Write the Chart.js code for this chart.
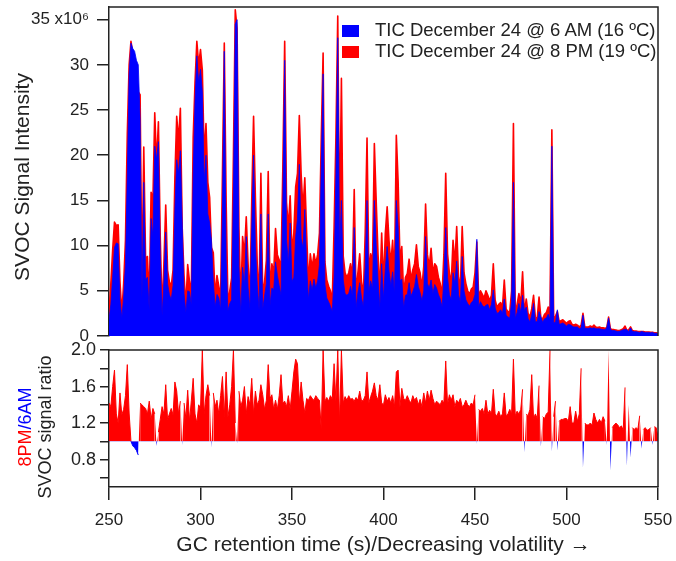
<!DOCTYPE html>
<html>
<head>
<meta charset="utf-8">
<script src="https://cdn.jsdelivr.net/npm/chart.js@4.4.1/dist/chart.umd.min.js"></script>
<style>
  html, body { margin: 0; padding: 0; background: #fff; }
  #wrap { position: relative; width: 676px; height: 561px; overflow: hidden; }
  #tic { position: absolute; left: 0; top: 0; }
  #ratio { position: absolute; left: 0; top: 338px; }
  #legend { position: absolute; left: 342px; top: 19px; font: 18.5px "Liberation Sans", Arial, sans-serif; color: #222; }
  #legend .row { height: 21px; line-height: 21px; white-space: nowrap; }
  #legend .swatch { display: inline-block; width: 17px; height: 12px; margin-right: 16px; vertical-align: -1px; }
</style>
</head>
<body>
<div id="wrap">
  <canvas id="tic" width="676" height="348"></canvas>
  <canvas id="ratio" width="676" height="223"></canvas>
  <div id="legend"></div>
</div>
<script>
// retention time grid, 1 s steps from 250 to 550 s
const retentionTime = Array.from({ length: 301 }, (_, i) => 250 + i);

// TIC, 6 AM sample (x10^6)
const amSignal = [
  1.8, 3.5, 6.5, 9.8, 10.3, 10.2, 4.0, 2.0, 4.3, 8.0,        // 250
  18.0, 29.0, 32.4, 31.8, 31.5, 30.5, 30.0, 24.0, 4.0, 17.0, // 260
  6.2, 6.5, 2.8, 13.0, 11.0, 21.0, 19.5, 21.5, 9.0, 2.2,     // 270
  6.0, 11.5, 5.8, 4.6, 4.0, 5.6, 14.0, 19.5, 18.0, 20.5,     // 280
  12.5, 4.7, 2.6, 5.0, 4.9, 3.4, 18.0, 26.0, 31.0, 28.0,     // 290
  29.5, 27.0, 17.0, 20.0, 13.5, 12.5, 10.5, 6.0, 3.2, 4.6,   // 300
  4.2, 2.9, 14.0, 31.5, 8.5, 2.8, 3.6, 4.0, 16.0, 34.5,      // 310
  35.0, 7.7, 2.5, 7.6, 5.6, 11.0, 5.4, 3.0, 12.0, 20.0,      // 320
  9.9, 5.7, 2.9, 13.5, 3.0, 4.4, 5.8, 13.5, 3.4, 5.3,        // 330
  5.1, 8.2, 6.7, 5.6, 4.5, 15.0, 30.5, 10.7, 8.0, 12.5,      // 340
  6.0, 6.5, 11.0, 13.0, 19.0, 10.8, 9.7, 14.0, 7.8, 4.0,     // 350
  6.1, 5.1, 6.3, 5.3, 6.1, 7.9, 19.0, 29.0, 5.7, 4.2,        // 360
  3.8, 3.3, 2.7, 6.5, 18.0, 33.0, 9.5, 15.0, 6.2, 4.7,       // 370
  4.5, 4.7, 5.5, 4.4, 12.0, 3.1, 4.8, 5.9, 4.2, 3.2,         // 380
  7.6, 15.0, 4.9, 6.1, 5.2, 15.0, 10.0, 6.3, 3.1, 8.0,       // 390
  4.1, 7.5, 9.9, 7.2, 5.6, 7.1, 4.7, 15.0, 12.0, 6.1,        // 400
  6.3, 3.1, 4.5, 4.6, 5.9, 4.4, 4.9, 5.5, 6.8, 5.5,          // 410
  4.8, 3.9, 5.0, 11.0, 5.8, 5.3, 6.2, 4.7, 5.7, 5.3,         // 420
  4.6, 4.1, 3.2, 6.3, 12.0, 6.5, 4.6, 4.0, 7.0, 5.8,         // 430
  8.3, 4.6, 3.7, 8.8, 5.0, 4.0, 3.6, 3.3, 3.7, 3.9,          // 440
  4.6, 10.7, 3.2, 3.8, 3.4, 3.2, 3.4, 3.5, 2.9, 3.5,         // 450
  5.1, 3.1, 2.5, 2.6, 2.9, 2.5, 4.1, 2.3, 2.1, 2.0,          // 460
  3.8, 17.0, 1.95, 2.6, 3.6, 2.6, 4.5, 2.8, 3.2, 1.95,       // 470
  1.55, 2.3, 3.6, 1.55, 1.6, 2.7, 2.1, 1.5, 1.9, 2.0,        // 480
  2.4, 1.8, 21.0, 1.5, 1.5, 2.9, 1.3, 1.35, 1.45, 1.3,       // 490
  1.1, 1.3, 1.25, 1.1, 1.0, 1.0, 1.0, 0.8, 0.9, 2.3,         // 500
  0.85, 0.85, 0.85, 0.9, 0.85, 0.9, 0.8, 0.8, 0.8, 0.75,     // 510
  0.72, 0.7, 0.9, 2.0, 0.75, 0.6, 0.6, 0.55, 0.5, 0.52,      // 520
  0.6, 0.7, 0.75, 0.7, 0.5, 0.9, 0.52, 0.48, 0.48, 0.44,     // 530
  0.4, 0.5, 0.44, 0.4, 0.4, 0.4, 0.35, 0.4, 0.3, 0.3,        // 540
  0.28                                                       // 550
];

// TIC, 8 PM sample (x10^6)
const pmSignal = [
  2.5, 5.8, 9.5, 12.6, 12.2, 12.3, 6.0, 2.5, 5.8, 10.6,      // 250
  22.4, 30.0, 32.6, 31.3, 29.5, 28.5, 27.0, 26.7, 5.5, 20.9, // 260
  8.4, 8.8, 4.0, 15.9, 15.0, 24.7, 19.0, 23.7, 11.0, 2.9,    // 270
  8.0, 14.5, 7.3, 6.0, 5.5, 7.3, 17.5, 24.3, 21.6, 25.2,     // 280
  12.0, 6.7, 3.3, 7.9, 6.0, 5.0, 22.0, 28.0, 32.6, 30.0,     // 290
  31.7, 29.4, 20.0, 23.5, 17.0, 15.3, 9.8, 9.2, 4.4, 6.7,    // 300
  5.5, 4.4, 18.0, 32.4, 15.0, 3.6, 5.0, 6.4, 20.0, 36.1,     // 310
  34.0, 12.0, 3.5, 11.0, 9.0, 13.2, 8.0, 4.2, 15.0, 24.3,    // 320
  15.3, 8.0, 4.2, 18.0, 4.6, 6.0, 8.4, 18.2, 5.0, 8.0,       // 330
  6.9, 11.9, 9.0, 8.4, 7.7, 18.7, 32.6, 14.8, 12.0, 15.5,    // 340
  9.3, 11.4, 16.5, 18.0, 24.4, 17.9, 14.0, 17.5, 11.4, 5.8,  // 350
  9.1, 7.5, 9.1, 8.0, 9.0, 11.4, 22.0, 31.3, 8.2, 6.2,       // 360
  5.5, 5.0, 3.9, 12.0, 22.0, 35.4, 11.4, 28.5, 8.8, 7.0,     // 370
  6.5, 7.0, 8.0, 6.5, 16.2, 4.6, 7.0, 9.1, 6.0, 4.6,         // 380
  11.4, 21.9, 6.9, 9.1, 8.0, 21.3, 15.0, 9.1, 5.0, 11.4,     // 390
  5.8, 11.4, 14.3, 10.6, 8.0, 10.6, 6.5, 22.2, 17.0, 8.4,    // 400
  9.9, 4.6, 6.5, 6.9, 8.5, 6.2, 7.3, 8.0, 10.1, 7.7,         // 410
  7.0, 5.4, 7.7, 14.6, 9.0, 7.7, 9.7, 6.9, 8.0, 7.7,         // 420
  6.5, 5.8, 4.6, 9.0, 18.0, 9.1, 7.0, 5.8, 10.6, 8.0,        // 430
  12.1, 6.5, 5.4, 12.1, 7.0, 5.8, 5.0, 4.6, 5.2, 5.4,        // 440
  7.0, 10.4, 4.3, 5.0, 4.6, 4.2, 5.0, 4.5, 3.9, 4.5,         // 450
  8.0, 4.0, 3.2, 3.5, 3.7, 3.2, 6.2, 3.0, 2.7, 2.7,          // 460
  5.0, 23.5, 2.5, 3.5, 4.7, 3.5, 7.1, 2.5, 4.1, 2.5,         // 470
  2.1, 3.0, 4.5, 2.0, 2.0, 4.3, 2.0, 1.9, 2.4, 2.6,          // 480
  3.2, 3.0, 22.8, 1.8, 2.2, 2.7, 1.6, 1.7, 1.8, 1.6,         // 490
  1.4, 1.6, 1.7, 1.3, 1.2, 1.3, 1.2, 1.0, 1.2, 2.5,          // 500
  1.0, 1.0, 1.0, 1.1, 1.0, 1.2, 1.0, 0.95, 1.0, 0.9,         // 510
  0.9, 0.85, 0.9, 2.1, 0.8, 0.7, 0.7, 0.65, 0.6, 0.6,        // 520
  0.7, 0.8, 1.1, 0.6, 0.7, 1.0, 0.6, 0.55, 0.55, 0.5,        // 530
  0.5, 0.5, 0.5, 0.45, 0.45, 0.45, 0.4, 0.4, 0.35, 0.35,     // 540
  0.3                                                        // 550
];

// 8PM / 6AM signal ratio
const signalRatio = [
  1.42, 1.38, 1.6, 1.78, 1.3, 1.2, 1.53, 1.29, 1.35, 1.5,    // 250
  1.84, 1.31, 1.0, 0.95, 0.93, 0.9, 0.85, 1.42, 1.4, 1.38,   // 260
  1.36, 1.3, 1.44, 1.24, 1.36, 1.3, 0.95, 1.1, 1.24, 1.38,   // 270
  1.3, 1.62, 1.24, 1.3, 1.36, 1.29, 1.65, 1.55, 1.3, 1.44,   // 280
  0.96, 1.42, 1.25, 1.56, 1.22, 1.45, 1.69, 1.3, 1.2, 1.4,   // 290
  1.36, 2.0, 1.3, 1.5, 1.62, 1.5, 0.93, 1.53, 1.38, 1.45,    // 300
  1.3, 1.5, 1.71, 1.27, 1.76, 1.27, 1.4, 1.6, 2.0, 1.2,      // 310
  0.98, 1.55, 1.38, 1.45, 1.6, 1.3, 1.49, 1.4, 1.69, 1.3,    // 320
  1.55, 1.4, 1.45, 1.62, 1.51, 1.35, 1.45, 1.84, 1.47, 1.51, // 330
  1.35, 1.45, 1.35, 1.5, 1.73, 1.42, 1.44, 1.38, 1.5, 1.35,  // 340
  1.55, 1.76, 1.9, 1.85, 1.42, 1.65, 1.45, 1.31, 1.47, 1.45, // 350
  1.5, 1.47, 1.45, 1.5, 1.47, 1.45, 1.13, 2.0, 1.44, 1.48,   // 360
  1.44, 1.5, 1.46, 1.85, 1.44, 2.0, 1.2, 2.0, 1.42, 1.49,    // 370
  1.45, 1.5, 1.46, 1.47, 1.44, 1.48, 1.45, 1.55, 1.44, 1.45, // 380
  1.5, 1.76, 1.42, 1.49, 1.55, 1.64, 1.5, 1.45, 1.62, 1.42,  // 390
  1.4, 1.51, 1.44, 1.48, 1.42, 1.5, 1.38, 1.76, 1.78, 1.38,  // 400
  1.58, 1.47, 1.45, 1.5, 1.45, 1.42, 1.5, 1.45, 1.48, 1.4,   // 410
  1.46, 1.38, 1.53, 1.42, 1.55, 1.45, 1.56, 1.47, 1.4, 1.44, // 420
  1.42, 1.4, 1.45, 1.42, 1.88, 1.4, 1.51, 1.45, 1.51, 1.38,  // 430
  1.45, 1.42, 1.47, 1.38, 1.4, 1.45, 1.4, 1.38, 1.42, 1.4,   // 440
  1.51, 0.97, 1.35, 1.33, 1.36, 1.3, 1.45, 1.3, 1.34, 1.3,   // 450
  1.57, 1.3, 1.28, 1.33, 1.27, 1.3, 1.53, 1.28, 1.3, 1.35,   // 460
  1.3, 1.9, 1.28, 1.33, 1.3, 1.35, 1.57, 0.88, 1.3, 1.28,    // 470
  1.35, 1.73, 1.25, 1.3, 1.25, 1.61, 0.94, 1.27, 1.25, 1.3,  // 480
  1.32, 2.0, 0.89, 1.27, 1.44, 0.9, 1.22, 1.24, 1.24, 1.25,  // 490
  1.25, 1.22, 1.38, 1.2, 1.2, 1.33, 1.22, 1.3, 1.8, 0.71,    // 500
  1.2, 1.18, 1.18, 1.2, 1.18, 1.31, 1.24, 1.2, 1.24, 1.2,    // 510
  1.27, 1.22, 0.96, 2.0, 0.68, 1.15, 1.18, 1.2, 1.18, 1.15,  // 520
  1.17, 1.12, 1.59, 0.73, 1.4, 0.82, 1.15, 1.13, 1.15, 1.13, // 530
  1.28, 0.92, 1.13, 1.15, 1.12, 1.13, 1.15, 0.96, 1.16, 1.15, // 540
  1.05                                                       // 550
];

const seriesLabels = ['TIC December 24 @ 6 AM (16 ºC)', 'TIC December 24 @ 8 PM (19 ºC)'];
const seriesColors = ['#0000ff', '#ff0000'];
const timeTicks = [250, 300, 350, 400, 450, 500, 550];
const ticTicks = [0, 5, 10, 15, 20, 25, 30, 35];
const ratioTicks = [0.6, 0.8, 1.0, 1.2, 1.4, 1.6, 1.8, 2.0];
const ratioLabelled = [0.8, 1.2, 1.6, 2.0];

const FONT = '"Liberation Sans", Arial, sans-serif';
const INK = '#222';
Chart.defaults.font.family = FONT;
Chart.defaults.color = INK;

const toPoints = ys => retentionTime.map((t, i) => ({ x: t, y: ys[i] }));

// top + right edges of the plot box
const boxFrame = {
  id: 'boxFrame',
  afterDatasetsDraw(chart) {
    const { ctx, chartArea: a } = chart;
    ctx.save();
    ctx.strokeStyle = INK;
    ctx.lineWidth = 1.5;
    ctx.beginPath();
    ctx.moveTo(a.left, a.top);
    ctx.lineTo(a.right, a.top);
    ctx.lineTo(a.right, a.bottom);
    ctx.stroke();
    ctx.restore();
  }
};

// rotated y titles, may be multi-coloured
function sideTitles(items) {
  return {
    id: 'sideTitles',
    afterDraw(chart) {
      const ctx = chart.ctx;
      items.forEach(item => {
        ctx.save();
        ctx.translate(item.x, item.y);
        ctx.rotate(-Math.PI / 2);
        ctx.font = item.size + 'px ' + FONT;
        ctx.textBaseline = 'middle';
        ctx.textAlign = 'left';
        const total = item.parts.reduce((w, p) => w + ctx.measureText(p[0]).width, 0);
        let cx = -total / 2;
        item.parts.forEach(p => {
          ctx.fillStyle = p[1];
          ctx.fillText(p[0], cx, 0);
          cx += ctx.measureText(p[0]).width;
        });
        ctx.restore();
      });
    }
  };
}

const noPad = s => { s.paddingTop = 0; s.paddingBottom = 0; s.paddingLeft = 0; s.paddingRight = 0; };

new Chart(document.getElementById('tic'), {
  type: 'line',
  data: {
    datasets: [
      {
        label: seriesLabels[0], data: toPoints(amSignal),
        borderColor: seriesColors[0], backgroundColor: seriesColors[0],
        borderWidth: 0.8, fill: 'origin', pointRadius: 0, borderJoinStyle: 'round'
      },
      {
        label: seriesLabels[1], data: toPoints(pmSignal),
        borderColor: seriesColors[1], backgroundColor: seriesColors[1],
        borderWidth: 1.6, fill: 'origin', pointRadius: 0, borderJoinStyle: 'round'
      }
    ]
  },
  options: {
    responsive: false,
    animation: false,
    events: [],
    layout: { padding: { top: 7, right: 18, bottom: 12, left: 0 } },
    plugins: { legend: { display: false }, tooltip: { enabled: false } },
    scales: {
      x: { type: 'linear', min: 250, max: 550, display: false },
      y: {
        min: 0, max: 36.4,
        afterBuildTicks: s => { s.ticks = ticTicks.map(v => ({ value: v })); },
        afterFit: s => { s.width = 109; noPad(s); },
        ticks: {
          font: { size: 17 }, color: INK, padding: 8, autoSkip: false,
          callback: v => v === 35 ? '35 x10\u2076' : String(v)
        },
        grid: { drawOnChartArea: false, tickLength: 12, color: INK, lineWidth: 1.5 },
        border: { color: INK, width: 1.5 }
      }
    }
  },
  plugins: [boxFrame, sideTitles([{ x: 23, y: 177, size: 21, parts: [['SVOC Signal Intensity', INK]] }])]
});

new Chart(document.getElementById('ratio'), {
  type: 'line',
  data: {
    datasets: [{
      label: '8PM/6AM',
      data: toPoints(signalRatio),
      borderWidth: 1,
      borderColor: seriesColors[1],
      pointRadius: 0,
      fill: { target: { value: 1 }, above: seriesColors[1], below: seriesColors[0] },
      segment: {
        borderColor: c => {
          const a = c.p0.parsed.y, b = c.p1.parsed.y;
          if (a >= 1 && b >= 1) return seriesColors[1];
          if (a <= 1 && b <= 1) return seriesColors[0];
          return 'rgba(0,0,0,0)';
        }
      }
    }]
  },
  options: {
    responsive: false,
    animation: false,
    events: [],
    layout: { padding: { top: 12, right: 18, bottom: 0, left: 0 } },
    plugins: { legend: { display: false }, tooltip: { enabled: false } },
    scales: {
      x: {
        type: 'linear', min: 250, max: 550,
        afterBuildTicks: s => { s.ticks = timeTicks.map(v => ({ value: v })); },
        afterFit: s => { s.height = 74; noPad(s); },
        ticks: { font: { size: 17 }, color: INK, padding: 10, maxRotation: 0, autoSkip: false },
        grid: { drawOnChartArea: false, tickLength: 13, color: INK, lineWidth: 1.5 },
        border: { color: INK, width: 1.5 },
        title: {
          display: true, text: 'GC retention time (s)/Decreasing volatility \u2192',
          font: { size: 21 }, color: INK, padding: { top: 0, bottom: 3 }
        }
      },
      y: {
        min: 0.5, max: 2.0,
        afterBuildTicks: s => { s.ticks = ratioTicks.map(v => ({ value: v })); },
        afterFit: s => { s.width = 109; noPad(s); },
        ticks: {
          font: { size: 18 }, color: INK, padding: 4, autoSkip: false,
          callback: v => ratioLabelled.some(r => Math.abs(r - v) < 1e-6) ? v.toFixed(1) : ''
        },
        grid: { drawOnChartArea: false, tickLength: 9, color: INK, lineWidth: 1.5 },
        border: { color: INK, width: 1.5 }
      }
    }
  },
  plugins: [boxFrame, sideTitles([
    { x: 26, y: 89, size: 18, parts: [['8PM', seriesColors[1]], ['/6AM', seriesColors[0]]] },
    { x: 46, y: 89, size: 18, parts: [['SVOC signal ratio', INK]] }
  ])]
});

// legend drawn over the plot, top right
const legend = document.getElementById('legend');
seriesLabels.forEach((txt, i) => {
  const row = document.createElement('div');
  row.className = 'row';
  const sw = document.createElement('span');
  sw.className = 'swatch';
  sw.style.background = seriesColors[i];
  row.appendChild(sw);
  row.appendChild(document.createTextNode(txt));
  legend.appendChild(row);
});
</script>
</body>
</html>
